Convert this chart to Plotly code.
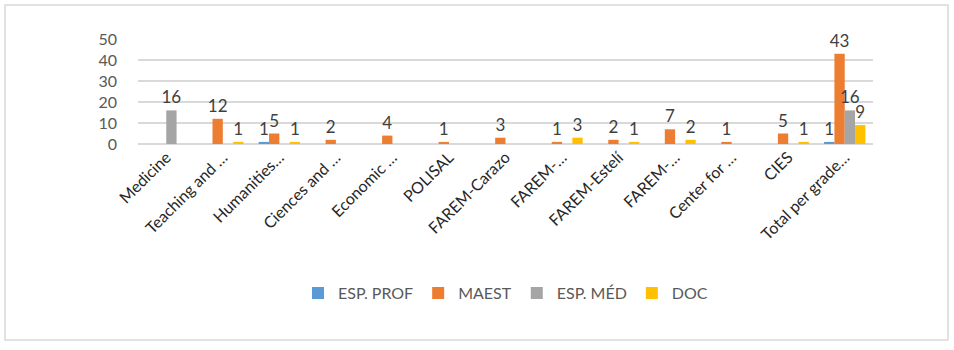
import plotly.graph_objects as go

categories = ["Medicine", "Teaching and …", "Humanities…", "Ciences and …", "Economic …",
              "POLISAL", "FAREM-Carazo", "FAREM-…", "FAREM-Estelí", "FAREM-…",
              "Center for …", "CIES", "Total per grade…"]
esp_prof = [0, 0, 1, 0, 0, 0, 0, 0, 0, 0, 0, 0, 1]
maest    = [0, 12, 5, 2, 4, 1, 3, 1, 2, 7, 1, 5, 43]
esp_med  = [16, 0, 0, 0, 0, 0, 0, 0, 0, 0, 0, 0, 16]
doc      = [0, 1, 1, 0, 0, 0, 0, 3, 1, 2, 0, 1, 9]
y_ticks = [0, 10, 20, 30, 40, 50]

series = [("ESP. PROF", esp_prof, "#5B9BD5"),
          ("MAEST", maest, "#ED7D31"),
          ("ESP. MÉD", esp_med, "#A5A5A5"),
          ("DOC", doc, "#FFC000")]

FONT = "Lato, 'Open Sans', sans-serif"
xs = list(range(len(categories)))
fig = go.Figure()
for name, vals, color in series:
    fig.add_trace(go.Bar(
        x=xs, y=[v if v else None for v in vals], name=name,
        marker=dict(color=color, line=dict(width=0)),
        text=[str(v) if v else "" for v in vals], textposition="outside",
        textfont=dict(size=17, color="#404040", family=FONT),
        constraintext="none", cliponaxis=False,
    ))

fig.update_layout(
    width=954, height=350,
    margin=dict(l=138, r=81, t=39, b=206),
    barmode="group", bargap=0.27, bargroupgap=0,
    paper_bgcolor="white", plot_bgcolor="white",
    font=dict(family=FONT, color="#595959"),
    showlegend=True,
    legend=dict(orientation="h", x=0.5, xanchor="center", y=-1.42, yanchor="middle",
                font=dict(size=16, color="#595959"), itemwidth=30, traceorder="normal"),
    xaxis=dict(tickvals=xs, ticktext=categories, tickangle=-45,
               tickfont=dict(size=16, color="#262626"), range=[-0.5, len(categories) - 0.5],
               showgrid=False, showline=False, ticks=""),
    yaxis=dict(range=[0, 50], tickvals=y_ticks, tickfont=dict(size=16, color="#595959"),
               showgrid=True, gridcolor="#D9D9D9", gridwidth=1.5, zeroline=True,
               zerolinecolor="#D9D9D9", zerolinewidth=1.5, ticks="", ticklabelstandoff=20),
    shapes=[dict(type="rect", xref="paper", yref="paper",
                 x0=(5 - 138) / 735, x1=(948 - 138) / 735,
                 y0=(144 - 340) / 105, y1=(144 - 5) / 105,
                 line=dict(color="#D9D9D9", width=1.5), fillcolor="rgba(0,0,0,0)", layer="below")],
)
fig.write_html("out.html")
